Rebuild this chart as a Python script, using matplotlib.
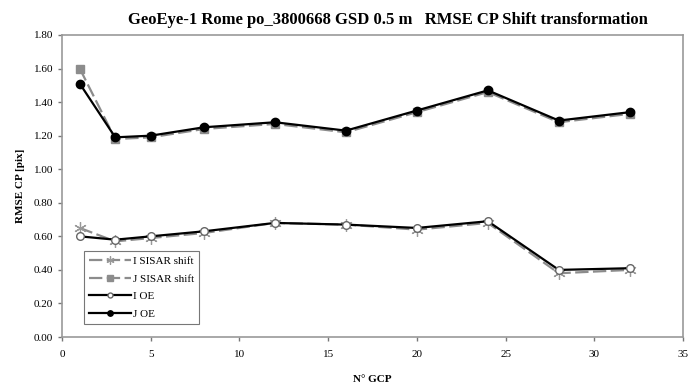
import matplotlib.pyplot as plt

plt.rcParams['font.family'] = ['Liberation Serif', 'DejaVu Serif']

# number of ground control points
n_gcp = [1, 3, 5, 8, 12, 16, 20, 24, 28, 32]

# RMSE on check points [pix]
i_sisar = [0.65, 0.57, 0.59, 0.62, 0.68, 0.67, 0.64, 0.68, 0.38, 0.40]
j_sisar = [1.60, 1.18, 1.19, 1.24, 1.27, 1.22, 1.34, 1.46, 1.28, 1.33]
i_oe = [0.60, 0.58, 0.60, 0.63, 0.68, 0.67, 0.65, 0.69, 0.40, 0.41]
j_oe = [1.51, 1.19, 1.20, 1.25, 1.28, 1.23, 1.35, 1.47, 1.29, 1.34]

fig = plt.figure(figsize=(6.9, 3.88), dpi=100)
ax = fig.add_axes([0.0899, 0.1314, 0.9, 0.7784])

gray = '#8c8c8c'
ax.plot(n_gcp, i_sisar, color=gray, lw=1.6, ls=(0, (6, 2)), marker=(6, 2, 0),
        ms=9, mec='#999999', mew=0.9, label='I SISAR shift', zorder=2)
ax.plot(n_gcp, j_sisar, color=gray, lw=1.6, ls=(0, (6, 2)), marker='s',
        ms=6, mfc=gray, mec=gray, label='J SISAR shift', zorder=2)
ax.plot(n_gcp, i_oe, color='black', lw=1.6, marker='o', ms=5.5,
        mfc='white', mec='#666666', mew=1.0, label='I OE', zorder=3)
ax.plot(n_gcp, j_oe, color='black', lw=1.6, marker='o', ms=6,
        mfc='black', mec='black', label='J OE', zorder=3)

ax.set_xlim(0, 35)
ax.set_ylim(0, 1.8)
ax.set_xticks(range(0, 36, 5))
ax.set_yticks([i * 0.2 for i in range(10)])
ax.set_yticklabels([f'{i * 0.2:.2f}' for i in range(10)])
ax.tick_params(labelsize=8, length=3, color='#777777', width=1)
ax.tick_params(axis='x', pad=6)
for s in ax.spines.values():
    s.set_color('#999999')
    s.set_linewidth(1.2)

ax.set_title('GeoEye-1 Rome po_3800668 GSD 0.5 m   RMSE CP Shift transformation',
             fontsize=12, fontweight='bold', pad=8, x=0.525)
ax.set_ylabel('RMSE CP [pix]', fontsize=8, fontweight='bold', labelpad=6)
ax.set_xlabel('N° GCP', fontsize=8, fontweight='bold', labelpad=12)

leg = ax.legend(loc='lower left', bbox_to_anchor=(0.026, 0.025), fontsize=8,
                handlelength=3.8, fancybox=False, edgecolor='#555555',
                borderpad=0.45, labelspacing=0.7, handletextpad=0.2,
                markerscale=0.65)
leg.get_frame().set_linewidth(0.8)

fig.savefig('out.png', dpi=100)
